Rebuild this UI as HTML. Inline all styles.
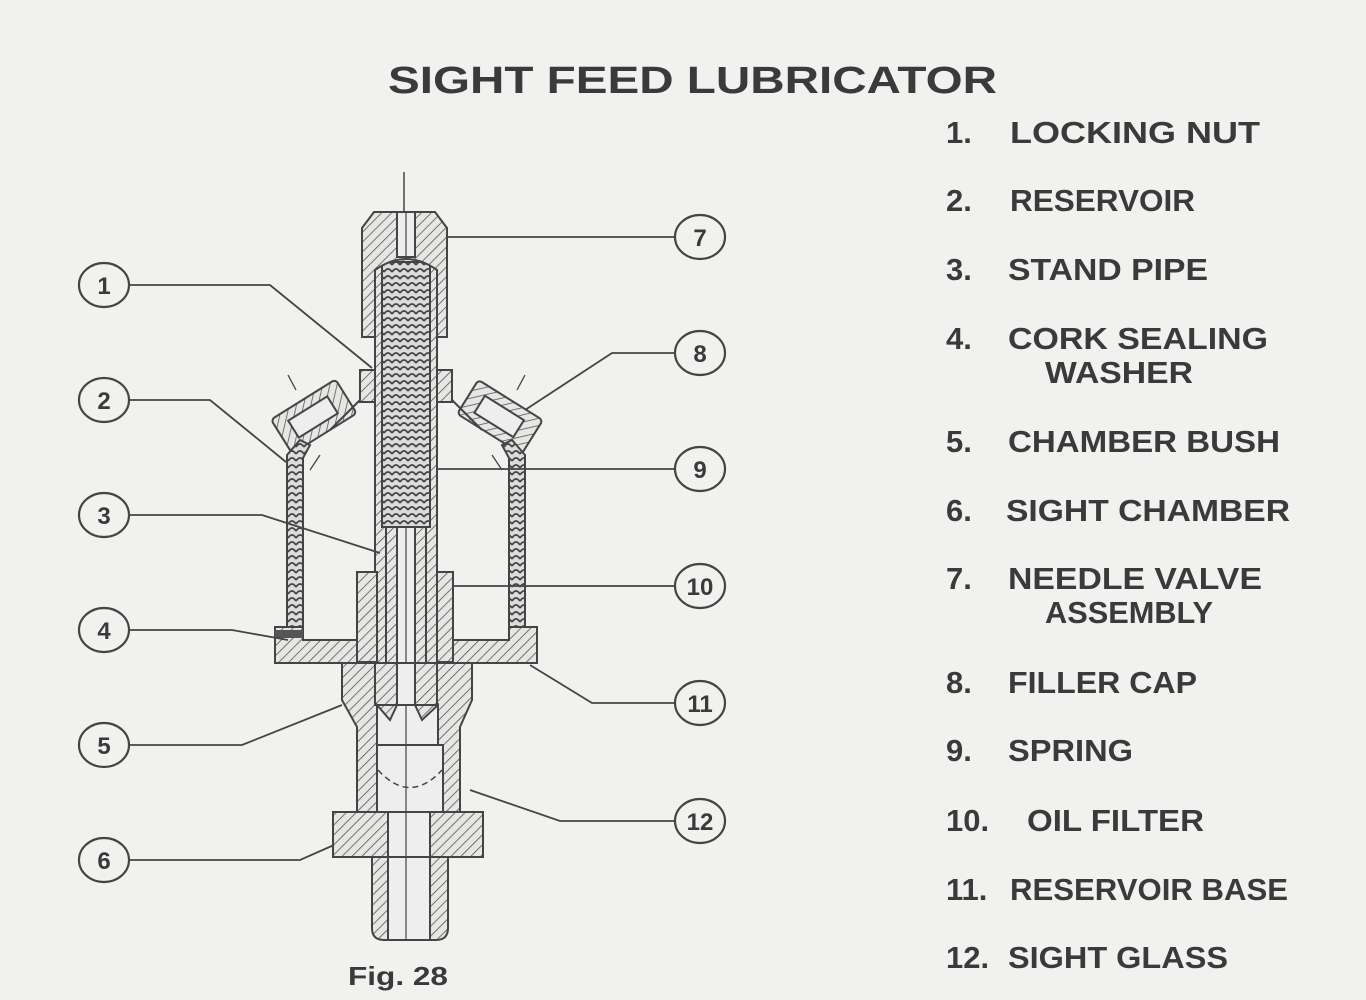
<!DOCTYPE html>
<html><head><meta charset="utf-8"><style>
html,body{margin:0;padding:0;background:#f1f1ef;}
svg{display:block}
text{font-family:"Liberation Sans",sans-serif;fill:#3a3a3a;font-weight:bold}
</style></head><body>
<svg width="1366" height="1000" viewBox="0 0 1366 1000" xmlns="http://www.w3.org/2000/svg">
<defs>
<pattern id="h" width="7" height="7" patternUnits="userSpaceOnUse" patternTransform="rotate(45)">
<rect width="7" height="7" fill="#e6e6e4"/><line x1="0" y1="0" x2="0" y2="7" stroke="#555" stroke-width="1.6"/></pattern>
<pattern id="s" width="8" height="7" patternUnits="userSpaceOnUse">
<rect width="8" height="7" fill="#dcdcda"/><path d="M0 6 Q4 0 8 6" stroke="#444" stroke-width="1.8" fill="none"/></pattern>
</defs>
<rect width="1366" height="1000" fill="#f1f1ef"/>
<text x="388" y="93" font-size="38" textLength="609" lengthAdjust="spacingAndGlyphs">SIGHT FEED LUBRICATOR</text>

<g stroke="#444" stroke-width="2" fill="none">
<line x1="404" y1="172" x2="404" y2="215" stroke-width="1.5"/>
<!-- stand pipe full length -->
<rect x="375" y="250" width="62" height="455" fill="url(#h)"/>
<rect x="382" y="262" width="48" height="265" fill="url(#s)"/>
<rect x="386" y="527" width="40" height="175" fill="url(#h)"/>
<rect x="397" y="527" width="18" height="190" fill="#eee"/>
<!-- nut -->
<path d="M362 337 V228 L374 212 H435 L447 228 V337 H437 V270 Q406 248 375 270 V337 Z" fill="url(#h)"/>
<rect x="397" y="212" width="18" height="45" fill="#eee"/>
<line x1="406" y1="212" x2="406" y2="257" stroke-width="1.2"/>
<!-- collars -->
<rect x="360" y="370" width="15" height="32" fill="url(#h)"/>
<rect x="437" y="370" width="15" height="32" fill="url(#h)"/>
<!-- filler caps -->
<g transform="rotate(-32 313 417)"><rect x="276" y="397" width="76" height="40" rx="4" fill="url(#h)"/><rect x="290" y="407" width="46" height="20" fill="#eee"/></g>
<g transform="rotate(32 500 417)"><rect x="462" y="397" width="76" height="40" rx="4" fill="url(#h)"/><rect x="476" y="407" width="46" height="20" fill="#eee"/></g>
<path d="M330 430 L360 400 M482 430 L452 400"/>
<path d="M288 375 L296 390 M525 375 L517 390 M320 455 L310 470 M492 455 L502 470" stroke-width="1.3"/>
<!-- walls -->
<path d="M287 455 L300 440 L310 445 L303 458 V640 H287 Z" fill="url(#s)"/>
<path d="M525 455 L512 440 L502 445 L509 458 V640 H525 Z" fill="url(#s)"/>
<line x1="406" y1="527" x2="406" y2="940" stroke-width="1.2"/>
<!-- chamber bush -->
<rect x="357" y="572" width="20" height="90" fill="url(#h)"/>
<rect x="437" y="572" width="16" height="90" fill="url(#h)"/>
<!-- base plate -->
<path d="M275 627 H303 V640 H357 V663 H275 Z" fill="url(#h)"/>
<path d="M537 627 H509 V640 H453 V663 H537 Z" fill="url(#h)"/>
<rect x="275" y="630" width="28" height="8" fill="#555" stroke="none"/>
<!-- lower body -->
<path d="M342 663 H472 V700 L460 727 V812 H357 V727 L342 700 Z" fill="url(#h)"/>
<rect x="375" y="663" width="62" height="42" fill="url(#h)"/>
<rect x="397" y="663" width="18" height="42" fill="#eee"/>
<path d="M377 745 V705 L390 720 L397 705 H415 L422 720 L438 705 V745 Z" fill="#eee"/>
<rect x="377" y="745" width="66" height="67" fill="#eee"/>
<path d="M378 770 Q410 805 442 770" stroke-dasharray="6 4" stroke-width="1.5"/>
<line x1="406" y1="705" x2="406" y2="812" stroke-width="1.2"/>
<!-- flange -->
<rect x="333" y="812" width="150" height="45" fill="url(#h)"/>
<rect x="388" y="812" width="42" height="45" fill="#eee"/>
<!-- stem -->
<path d="M372 857 V928 Q372 940 384 940 H436 Q448 940 448 928 V857 Z" fill="url(#h)"/>
<rect x="388" y="857" width="42" height="83" fill="#eee"/>
<line x1="406" y1="812" x2="406" y2="940" stroke-width="1.2"/>
</g>

<!-- leaders -->
<g stroke="#444" stroke-width="1.8" fill="none">
<path d="M130 285 H270 L372 368"/>
<path d="M130 400 H210 L286 462"/>
<path d="M130 515 H262 L380 553"/>
<path d="M130 630 H232 L288 640"/>
<path d="M130 745 H242 L342 705"/>
<path d="M130 860 H300 L334 845"/>
<path d="M674 237 H447"/>
<path d="M674 353 H612 L525 410"/>
<path d="M674 469 H437"/>
<path d="M674 586 H453"/>
<path d="M674 703 H592 L530 665"/>
<path d="M674 821 H560 L470 790"/>
</g>
<g stroke="#444" stroke-width="2.2" fill="#f1f1ef">
<ellipse cx="104" cy="285" rx="25" ry="22"/><ellipse cx="104" cy="400" rx="25" ry="22"/>
<ellipse cx="104" cy="515" rx="25" ry="22"/><ellipse cx="104" cy="630" rx="25" ry="22"/>
<ellipse cx="104" cy="745" rx="25" ry="22"/><ellipse cx="104" cy="860" rx="25" ry="22"/>
<ellipse cx="700" cy="237" rx="25" ry="22"/><ellipse cx="700" cy="353" rx="25" ry="22"/>
<ellipse cx="700" cy="469" rx="25" ry="22"/><ellipse cx="700" cy="586" rx="25" ry="22"/>
<ellipse cx="700" cy="703" rx="25" ry="22"/><ellipse cx="700" cy="821" rx="25" ry="22"/>
</g>
<g font-size="24" text-anchor="middle">
<text x="104" y="294" font-weight="normal">1</text><text x="104" y="409">2</text>
<text x="104" y="524">3</text><text x="104" y="639">4</text>
<text x="104" y="754">5</text><text x="104" y="869">6</text>
<text x="700" y="246">7</text><text x="700" y="362">8</text>
<text x="700" y="478">9</text><text x="700" y="595" font-weight="normal">10</text>
<text x="700" y="712" font-weight="normal">11</text><text x="700" y="830" font-weight="normal">12</text>
</g>
<text x="348" y="985" font-size="26" font-weight="normal" textLength="100" lengthAdjust="spacingAndGlyphs">Fig. 28</text>

<g font-size="31">
<text x="946" y="143">1.</text><text x="1010" y="143" textLength="250" lengthAdjust="spacingAndGlyphs">LOCKING NUT</text>
<text x="946" y="211">2.</text><text x="1010" y="211" textLength="185" lengthAdjust="spacingAndGlyphs">RESERVOIR</text>
<text x="946" y="280">3.</text><text x="1008" y="280" textLength="200" lengthAdjust="spacingAndGlyphs">STAND PIPE</text>
<text x="946" y="349">4.</text><text x="1008" y="349" textLength="260" lengthAdjust="spacingAndGlyphs">CORK SEALING</text>
<text x="1045" y="383" textLength="148" lengthAdjust="spacingAndGlyphs">WASHER</text>
<text x="946" y="452">5.</text><text x="1008" y="452" textLength="272" lengthAdjust="spacingAndGlyphs">CHAMBER BUSH</text>
<text x="946" y="521">6.</text><text x="1006" y="521" textLength="284" lengthAdjust="spacingAndGlyphs">SIGHT CHAMBER</text>
<text x="946" y="589">7.</text><text x="1008" y="589" textLength="254" lengthAdjust="spacingAndGlyphs">NEEDLE VALVE</text>
<text x="1045" y="623" textLength="168" lengthAdjust="spacingAndGlyphs">ASSEMBLY</text>
<text x="946" y="693">8.</text><text x="1008" y="693" textLength="189" lengthAdjust="spacingAndGlyphs">FILLER CAP</text>
<text x="946" y="761">9.</text><text x="1008" y="761" textLength="125" lengthAdjust="spacingAndGlyphs">SPRING</text>
<text x="946" y="831">10.</text><text x="1027" y="831" textLength="177" lengthAdjust="spacingAndGlyphs">OIL FILTER</text>
<text x="946" y="900">11.</text><text x="1010" y="900" textLength="278" lengthAdjust="spacingAndGlyphs">RESERVOIR BASE</text>
<text x="946" y="968">12.</text><text x="1008" y="968" textLength="220" lengthAdjust="spacingAndGlyphs">SIGHT GLASS</text>
</g>
</svg>
</body></html>
